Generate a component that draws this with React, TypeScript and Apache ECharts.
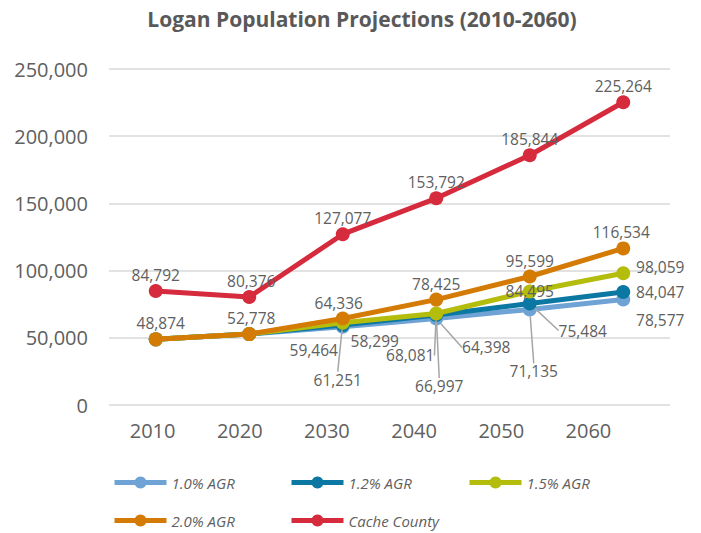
import React, { useEffect, useRef } from 'react';
import * as echarts from 'echarts';

const years = ['2010', '2020', '2030', '2040', '2050', '2060'];
const agr10 = [48874, 52778, 58299, 64398, 71135, 78577];
const agr12 = [48874, 52778, 59464, 66997, 75484, 84047];
const agr15 = [48874, 52778, 61251, 68081, 84495, 98059];
const agr20 = [48874, 52778, 64336, 78425, 95599, 116534];
const cacheCounty = [84792, 80376, 127077, 153792, 185844, 225264];

const seriesNames = ['1.0% AGR', '1.2% AGR', '1.5% AGR', '2.0% AGR', 'Cache County'];
const seriesValues = [agr10, agr12, agr15, agr20, cacheCounty];
const seriesColors = ['#6fa3d6', '#0b78a3', '#b4bc0c', '#d47b06', '#d62a3d'];

// label placement per point: [dx, dy, leaderLine] relative to the point; null = hidden
const labelPlacement: (number[] | null)[][] = [
  [null, null, [32, 14, 0], [50, 29, 1], [4, 62, 1], [37, 21, 0]],
  [null, null, [-29, 25, 0], [3, 71, 1], [53, 27, 1], [37, 0, 0]],
  [null, null, [-5, 57, 1], [-26, 42, 1], [0, 0, 0], [37, -6, 0]],
  [[5, -16, 0], [2, -16, 0], [-4, -16, 0], [0, -16, 0], [0, -16, 0], [-2, -16, 0]],
  [[0, -16, 0], [2, -16, 0], [0, -16, 0], [0, -16, 0], [0, -16, 0], [0, -16, 0]],
];

const legendPos = [
  [112, 475],
  [289, 475],
  [467, 475],
  [112, 513],
  [289, 513],
];

const FONT = '"Open Sans", "Noto Sans", sans-serif';
const TEXT = '#595959';
const LIGHT = '#606060';

export default function App() {
  const ref = useRef<HTMLDivElement>(null);
  useEffect(() => {
    document.body.style.margin = '0';
    const chart = echarts.init(ref.current!, null, { renderer: 'svg' });
    const fmt = (v: number) => v.toLocaleString('en-US');
    const series = seriesNames.map((name, si) => ({
      type: 'line',
      name,
      xAxisIndex: 0,
      yAxisIndex: 0,
      symbol: 'circle',
      symbolSize: 14,
      z: 2 + si,
      lineStyle: { width: 5, color: seriesColors[si] },
      itemStyle: { color: seriesColors[si] },
      label: {
        show: false,
        position: 'inside',
        fontSize: 15.5,
        fontFamily: FONT,
        color: LIGHT,
        textBorderWidth: 0,
        textBorderColor: 'transparent',
        formatter: (p: any) => fmt(p.value),
      },
      labelLayout: (params: any) => {
        const p = labelPlacement[params.seriesIndex][params.dataIndex];
        return p ? { dx: p[0], dy: p[1] } : {};
      },
      data: seriesValues[si].map((v, i) => {
        const p = labelPlacement[si][i];
        return {
          value: v,
          label: { show: !!p },
          labelLine: {
            show: !!(p && p[2] === 1),
            lineStyle: { color: '#a6a6a6', width: 1.5 },
          },
        };
      }),
    }));
    chart.setOption({
      animation: false,
      backgroundColor: '#ffffff',
      textStyle: { fontFamily: FONT },
      title: {
        text: 'Logan Population Projections (2010-2060)',
        left: 362,
        top: 8,
        padding: 0,
        textAlign: 'center',
        textStyle: { fontSize: 21, fontWeight: 'bold', color: TEXT, fontFamily: FONT },
      },
      legend: seriesNames.map((name, i) => ({
        data: [name],
        left: legendPos[i][0],
        top: legendPos[i][1],
        padding: 0,
        itemWidth: 52,
        itemHeight: 15,
        lineStyle: { width: 5 },
        selectedMode: false,
        textStyle: { fontSize: 15, fontStyle: 'italic', color: LIGHT, fontFamily: FONT },
      })),
      grid: [
        { left: 109, right: 31, top: 69, bottom: 128 },
        { left: 109, right: 69, top: 69, bottom: 128 },
      ],
      xAxis: [
        {
          gridIndex: 0,
          type: 'category',
          data: years,
          axisLine: { show: false },
          axisTick: { show: false },
          axisLabel: { show: false },
        },
        {
          gridIndex: 1,
          type: 'category',
          data: years,
          axisLine: { show: false },
          axisTick: { show: false },
          axisLabel: { fontSize: 20, color: LIGHT, margin: 15, fontFamily: FONT },
        },
      ],
      yAxis: [
        {
          gridIndex: 0,
          type: 'value',
          min: 0,
          max: 250000,
          interval: 50000,
          axisLine: { show: false },
          axisTick: { show: false },
          axisLabel: { fontSize: 20, color: LIGHT, margin: 21, fontFamily: FONT, formatter: (v: number) => fmt(v) },
          splitLine: { lineStyle: { color: '#d9d9d9', width: 1.5 } },
        },
        { gridIndex: 1, type: 'value', min: 0, max: 1, show: false },
      ],
      series,
    });
    return () => chart.dispose();
  }, []);
  return <div ref={ref} style={{ width: 701, height: 533 }} />;
}
